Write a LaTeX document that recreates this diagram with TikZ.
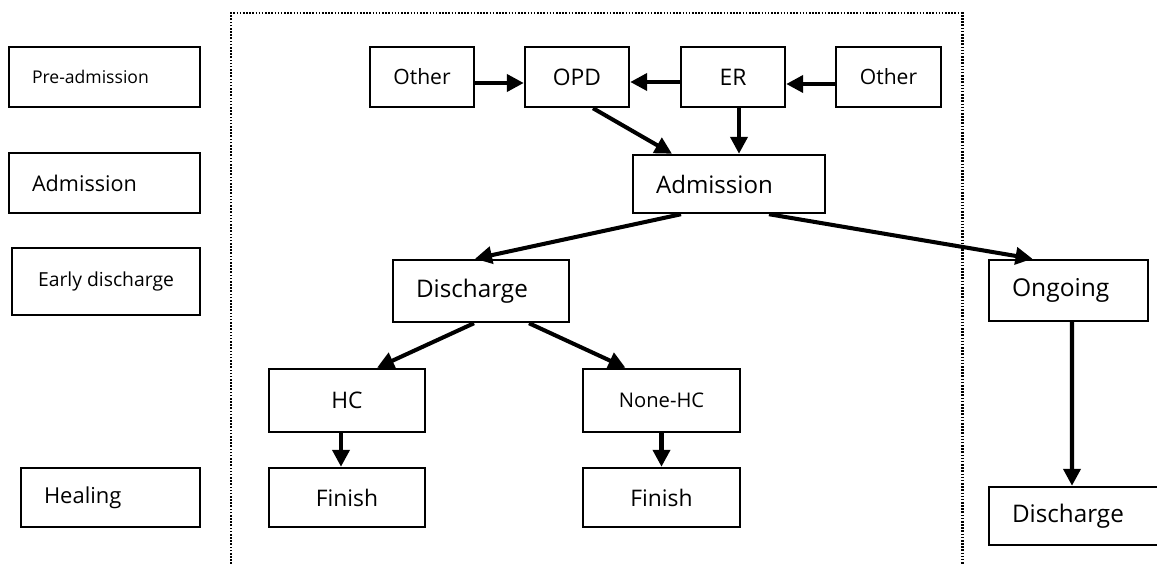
\documentclass[tikz,border=0pt]{standalone}
\usepackage{fontspec}
\setmainfont{Open Sans}
\usepackage{tikz}
\usetikzlibrary{arrows.meta,calc,positioning}
\tikzset{
  stagebox/.style={draw,line width=1.4pt,minimum height=12mm,inner ysep=0pt,align=center,font=\fontsize{13}{15}\selectfont},
  padbox/.style={stagebox,align=left,inner xsep=4.6mm},
  flow/.style={-{Triangle[length=3.4mm,width=3.4mm]},line width=2.3pt},
  frame/.style={line width=1.7pt,dash pattern=on 0.9pt off 0.9pt}
}

\begin{document}
\begin{tikzpicture}[x=0.02cm,y=-0.02cm]
  \clip (0,0) rectangle (1157,564);
  % phases on the left
  \node[padbox,text width=29mm,font=\fontsize{10}{12}\selectfont] (preadm) at (104.5,77) {Pre-admission};
  \node[padbox,text width=29mm,font=\fontsize{12.3}{14}\selectfont] (admphase) at (104.5,183) {Admission};
  \node[stagebox,minimum width=37.6mm,minimum height=13.4mm,font=\fontsize{11}{13}\selectfont] (early) at (106,281.5) {Early discharge};
  \node[padbox,text width=26.6mm,minimum height=11.8mm,font=\fontsize{12.5}{14}\selectfont] (healing) at (110.5,497.5) {Healing};
  % dotted frame
  \draw[frame] (231,564) -- (231,13) -- (962,13) -- (962,564);
  % patient path
  \node[stagebox,minimum width=20.8mm,font=\fontsize{12}{14}\selectfont] (otherL) at (422,77) {Other};
  \node[stagebox,minimum width=20.8mm] (opd) at (577,77) {OPD};
  \node[stagebox,minimum width=20.8mm] (er) at (733,77) {ER};
  \node[stagebox,minimum width=21mm,font=\fontsize{12}{14}\selectfont] (otherR) at (888.5,77) {Other};
  \node[padbox,text width=29.2mm,minimum height=11.6mm,font=\fontsize{13.7}{15}\selectfont] (admission) at (729,184) {Admission};
  \node[padbox,text width=26mm,minimum height=12.4mm,font=\fontsize{13.8}{15}\selectfont] (discharge) at (481,291) {Discharge};
  \node[stagebox,minimum width=31.2mm,minimum height=12.6mm] (hc) at (347,400.5) {HC};
  \node[stagebox,minimum width=31.4mm,minimum height=12.6mm,font=\fontsize{11.5}{13}\selectfont] (nonehc) at (661.5,400.5) {None-HC};
  \node[stagebox,minimum width=31.2mm,minimum height=11.8mm] (finishhc) at (347,497.5) {Finish};
  \node[stagebox,minimum width=31.4mm,minimum height=11.8mm] (finishnon) at (661.5,497.5) {Finish};
  \node[padbox,text width=22.6mm,minimum height=12.2mm,font=\fontsize{14}{16}\selectfont] (ongoing) at (1068.5,290.5) {Ongoing};
  \node[padbox,text width=26mm,minimum height=11.6mm,font=\fontsize{13.8}{15}\selectfont] (dischargeR) at (1077,516) {Discharge};
  % arrows
  \draw[flow] ($(otherL.east)+(0,6)$) -- ($(opd.west)+(0,6)$);
  \draw[flow] ($(er.west)+(0,5)$) -- ($(opd.east)+(0,5)$);
  \draw[flow] ($(otherR.west)+(0,7)$) -- ($(er.east)+(0,7)$);
  \draw[flow] ($(opd.south)+(16,0)$) -- ($(admission.north)+(-57,0)$);
  \draw[flow] ($(er.south)+(6,0)$) -- ($(admission.north)+(10,0)$);
  \draw[flow] ($(admission.south)+(-48,0)$) -- ($(discharge.north)+(-6,0)$);
  \draw[flow] ($(admission.south)+(40,0)$) -- ($(ongoing.north)+(-36,0)$);
  \draw[flow] ($(discharge.south)+(-7,0)$) -- ($(hc.north)+(30,0)$);
  \draw[flow] ($(discharge.south)+(48,0)$) -- ($(nonehc.north)+(-36,0)$);
  \draw[flow] ($(hc.south)+(-6,0)$) -- ($(finishhc.north)+(-6,0)$);
  \draw[flow] (nonehc) -- (finishnon);
  \draw[flow] ($(ongoing.south)+(3.5,0)$) -- ($(dischargeR.north)+(-5,0)$);
\end{tikzpicture}
\end{document}
